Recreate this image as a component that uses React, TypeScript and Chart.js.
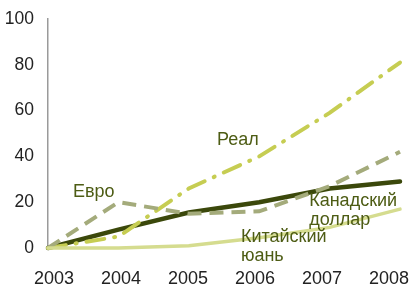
import React, { useEffect, useRef } from "react";
import { Chart, registerables } from "chart.js";

Chart.register(...registerables);

const years = ["2003", "2004", "2005", "2006", "2007", "2008"];
const yearTicks = [2003, 2004, 2005, 2006, 2007, 2008];
const realValues = [0, 5, 26, 40, 59, 81];
const euroValues = [0, 20, 15, 16, 27, 42];
const cadValues = [0, 8, 15.5, 20, 26, 29];
const yuanValues = [0, 0, 1, 4.5, 9, 17];
const yTicks = [0, 20, 40, 60, 80, 100];

const seriesLabels = [
  { lines: ["Реал"], x: 2.4, y: 47.2 },
  { lines: ["Евро"], x: 0.355, y: 24.5 },
  { lines: ["Канадский", "доллар"], x: 3.71, y: 20.5 },
  { lines: ["Китайский", "юань"], x: 2.74, y: 4.8 },
];

const FONT = "'Liberation Sans', Arial, Helvetica, sans-serif";
const LABEL_COLOR = "#4d5c14";

const labelPlugin = {
  id: "seriesLabels",
  afterDatasetsDraw(chart: any) {
    const ctx = chart.ctx;
    const xs = chart.scales.x;
    const ys = chart.scales.y;
    ctx.save();
    ctx.font = `18px ${FONT}`;
    ctx.fillStyle = LABEL_COLOR;
    ctx.textAlign = "left";
    ctx.textBaseline = "middle";
    seriesLabels.forEach((l) => {
      const px = xs.getPixelForValue(l.x);
      const py = ys.getPixelForValue(l.y);
      l.lines.forEach((t, i) => ctx.fillText(t, px, py + i * 19));
    });
    ctx.restore();
  },
};

export default function App() {
  const ref = useRef<HTMLCanvasElement>(null);
  useEffect(() => {
    document.body.style.margin = "0";
    const chart = new Chart(ref.current!, {
      type: "line",
      data: {
        labels: years,
        datasets: [
          {
            label: "Китайский юань",
            data: yuanValues,
            borderColor: "#d5dc8f",
            borderWidth: 3.5,
            pointRadius: 0,
            tension: 0,
            clip: false,
            borderCapStyle: "round",
          },
          {
            label: "Евро",
            data: euroValues,
            borderColor: "#a4ab7b",
            borderWidth: 4,
            borderDash: [14, 8],
            pointRadius: 0,
            tension: 0,
            clip: false,
          },
          {
            label: "Реал",
            data: realValues,
            borderColor: "#c6cd52",
            borderWidth: 4,
            borderDash: [18, 10, 1, 10],
            borderCapStyle: "round",
            pointRadius: 0,
            tension: 0,
            clip: false,
          },
          {
            label: "Канадский доллар",
            data: cadValues,
            borderColor: "#3b480b",
            borderWidth: 4.5,
            borderCapStyle: "round",
            pointRadius: 0,
            tension: 0,
            clip: false,
          },
        ] as any,
      },
      options: {
        animation: false,
        responsive: false,
        layout: { padding: { top: 19, right: 9, left: 0, bottom: 0 } },
        plugins: { legend: { display: false }, tooltip: { enabled: false } },
        scales: {
          x: {
            type: "category",
            display: false,
            offset: false,
          },
          xt: {
            type: "linear",
            position: "bottom",
            min: 2003 - 6 / 67,
            max: 2003 + 346 / 67,
            afterBuildTicks: (s: any) => {
              s.ticks = yearTicks.map((v) => ({ value: v }));
            },
            afterFit: (s: any) => {
              s.height = 39;
              s.paddingLeft = 0;
              s.paddingRight = 0;
            },
            grid: { display: false },
            border: { display: false },
            ticks: {
              color: "#222",
              font: { family: FONT, size: 18 },
              padding: 12,
              maxRotation: 0,
              autoSkip: false,
              callback: (v: any) => String(v),
            },
          },
          y: {
            min: 0,
            max: 100,
            afterBuildTicks: (s: any) => {
              s.ticks = yTicks.map((v) => ({ value: v }));
            },
            afterFit: (s: any) => {
              s.width = 48;
              s.paddingTop = 0;
              s.paddingBottom = 0;
            },
            grid: { display: false },
            border: { display: true, color: "#9a9a9a", width: 1.5 },
            ticks: {
              color: "#222",
              font: { family: FONT, size: 17.5 },
              padding: 6,
            },
          },
        } as any,
      },
      plugins: [labelPlugin],
    });
    return () => chart.destroy();
  }, []);
  return (
    <div style={{ position: "fixed", left: 0, top: 0, width: 409, height: 287 }}>
      <canvas ref={ref} width={409} height={287} />
    </div>
  );
}
